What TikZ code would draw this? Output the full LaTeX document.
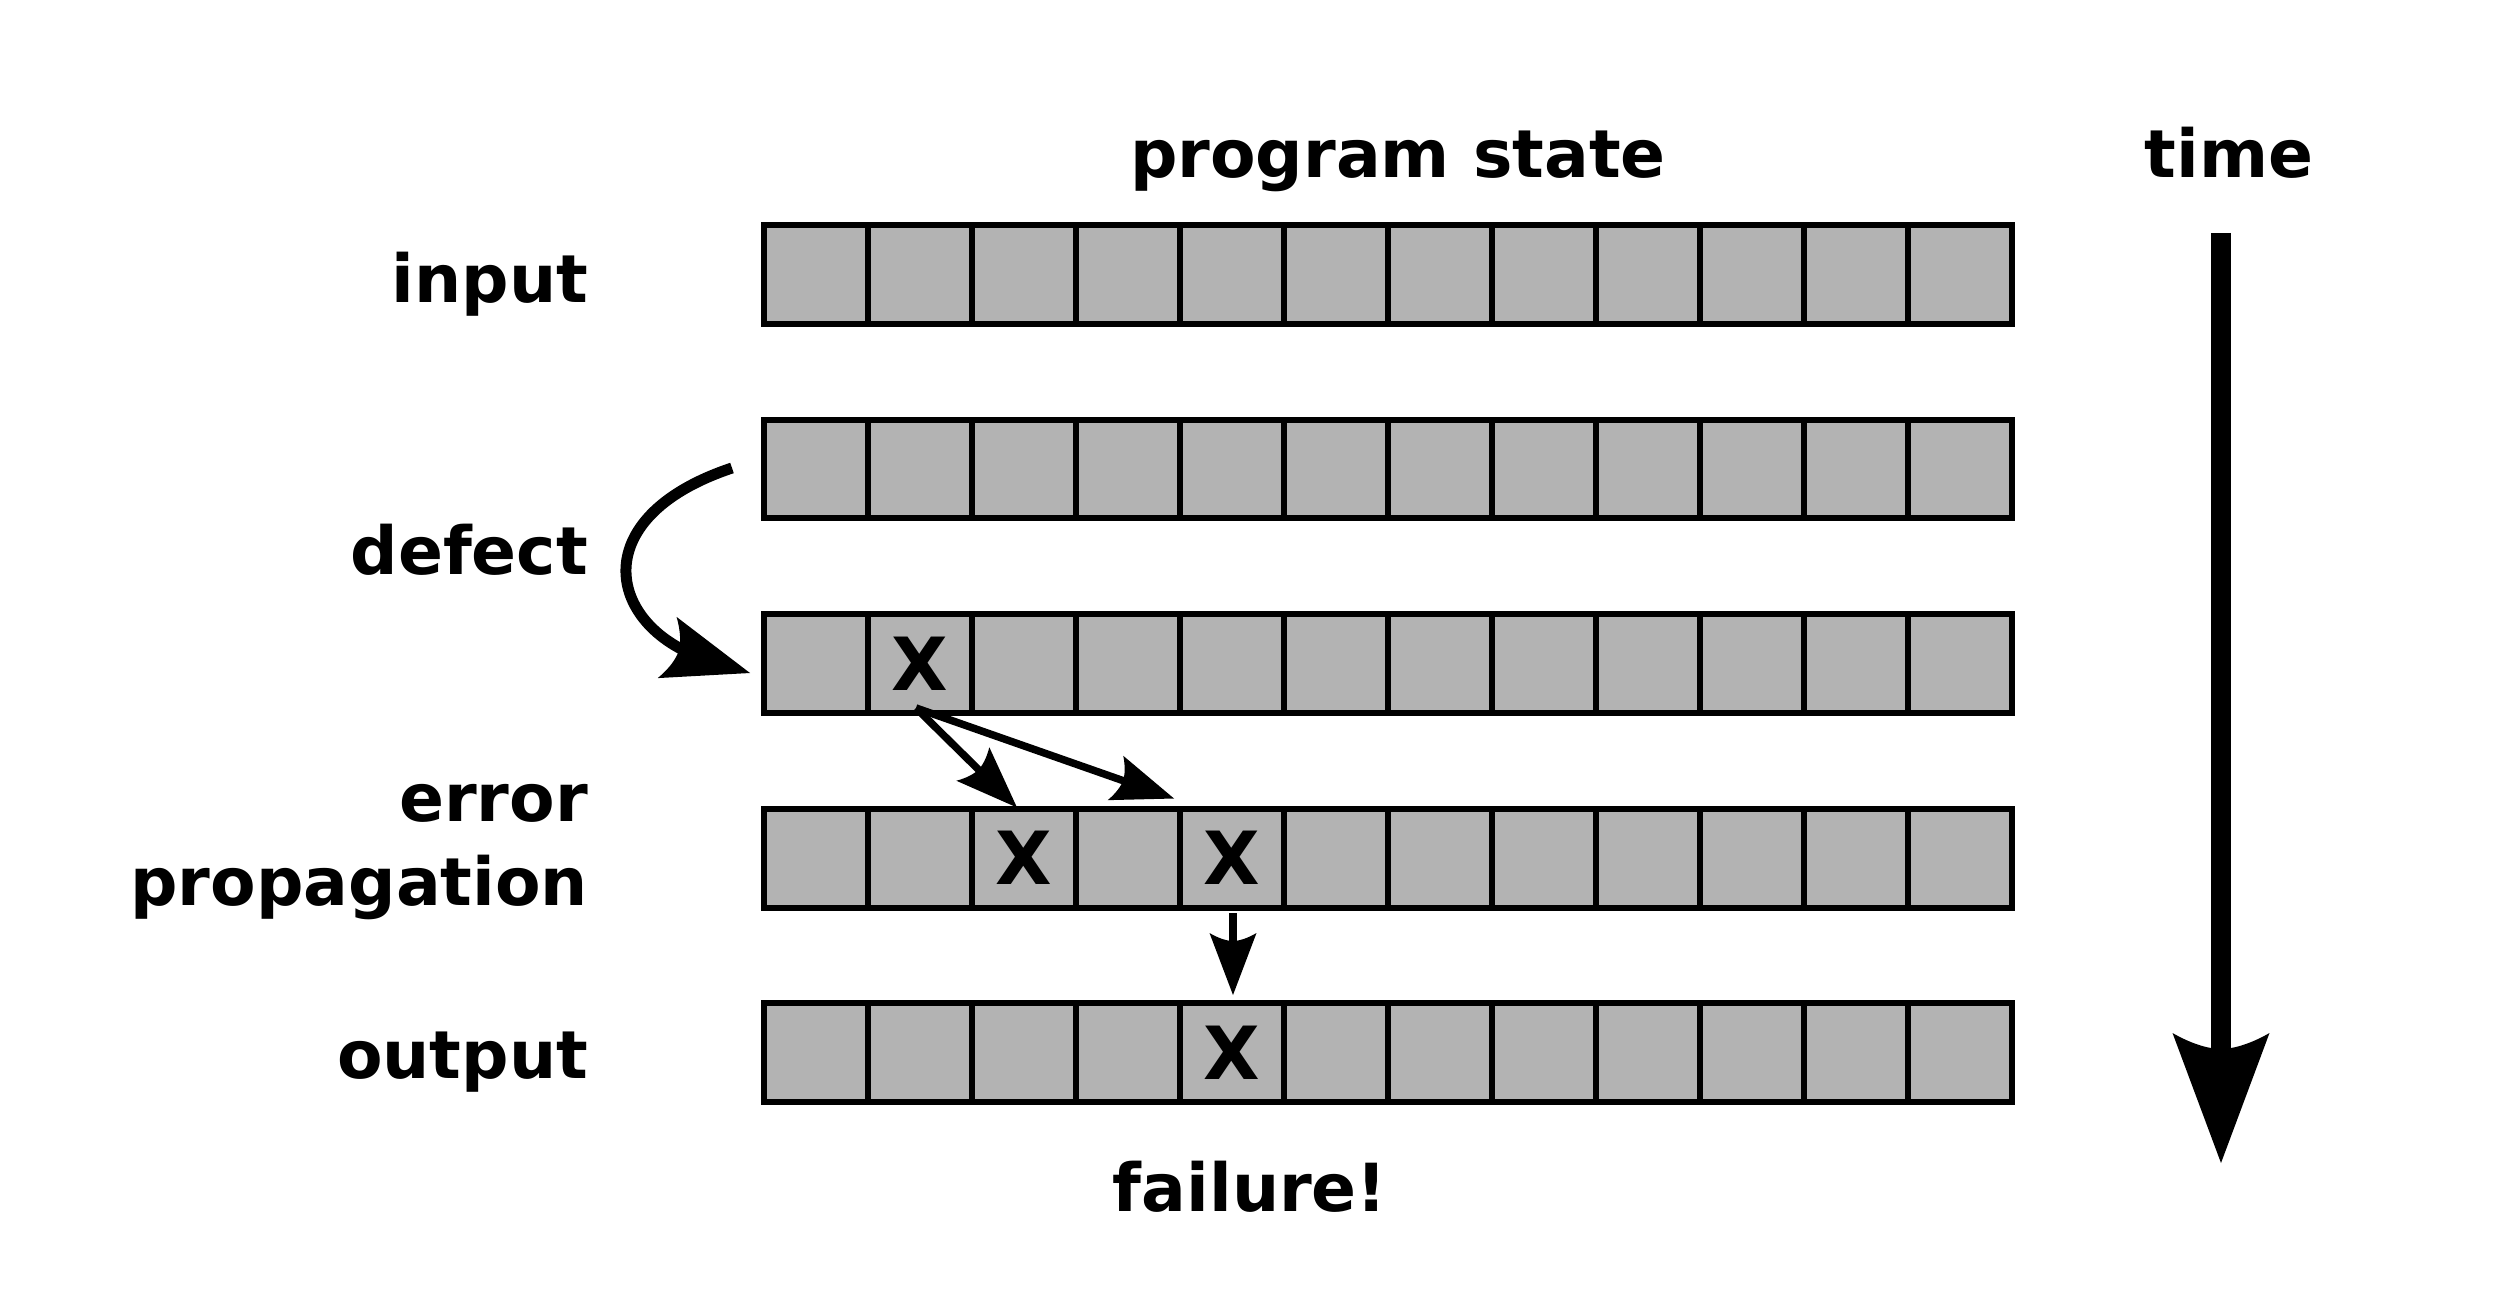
\documentclass[tikz,border=0pt]{standalone}
\usepackage{fontspec}
\setmainfont{DejaVu Sans}
\usetikzlibrary{arrows.meta,calc}
\definecolor{cellgray}{HTML}{B3B3B3}
\pgfdeclarearrow{
  name = InkHead,
  parameters = {\the\pgfarrowlength,\the\pgfarrowwidth,\the\pgfarrowinset},
  setup code = {
    \pgfarrowssettipend{\pgfarrowlength}
    \pgfarrowssetbackend{0pt}
    \pgfarrowssetlineend{.5\pgfarrowlength}
    \pgfarrowssavethe\pgfarrowlength
    \pgfarrowssavethe\pgfarrowwidth
    \pgfarrowssavethe\pgfarrowinset
  },
  drawing code = {
    \pgfpathmoveto{\pgfqpoint{\pgfarrowlength}{0pt}}
    \pgfpathlineto{\pgfqpoint{0pt}{.5\pgfarrowwidth}}
    \pgfpathcurveto{\pgfqpoint{.7\pgfarrowinset}{.3\pgfarrowwidth}}{\pgfqpoint{\pgfarrowinset}{.12\pgfarrowwidth}}{\pgfqpoint{\pgfarrowinset}{0pt}}
    \pgfpathcurveto{\pgfqpoint{\pgfarrowinset}{-.12\pgfarrowwidth}}{\pgfqpoint{.7\pgfarrowinset}{-.3\pgfarrowwidth}}{\pgfqpoint{0pt}{-.5\pgfarrowwidth}}
    \pgfpathclose
    \pgfusepathqfill
  },
  defaults = {length=10pt, width=8pt, inset=1.5pt}
}
\begin{document}
\begin{tikzpicture}[x=0.3pt, y=-0.3pt,
  cell/.style={draw=black, fill=cellgray, line width=1.8pt, minimum width=31.2pt, minimum height=29.7pt, inner sep=0pt, outer sep=0pt},
  lbl/.style={inner sep=0pt, outer sep=0pt, font=\fontsize{19.9}{24}\selectfont\bfseries},
  xmark/.style={inner sep=0pt, outer sep=0pt, font=\fontsize{22}{26}\selectfont\bfseries},
  defarrow/.style={line width=3.3pt, -{InkHead[length=26pt,width=19.2pt,inset=3.6pt]}},
  parrow/.style={line width=2.25pt, -{InkHead[length=18.6pt,width=14.1pt,inset=2.4pt]}},
  tarrow/.style={line width=6pt, -{InkHead[length=39pt,width=29.1pt,inset=4.8pt]}}
]
\useasboundingbox[fill=white] (0,0) rectangle (2500,1314);

\foreach \r/\yy in {1/274.5,2/469,3/663.5,4/858,5/1052.5}{
  \foreach \c in {1,...,12}{
    \node[cell] (r\r-\c) at ({764+(\c-0.5)*104},\yy) {};
  }
}

% titles and labels
\node[lbl, anchor=base] (ttl) at (1398,178) {program state};
\node[lbl, anchor=base] (ttime) at (2229,178) {time};
\node[lbl, anchor=base east] (linput) at (588,302.7) {input};
\node[lbl, anchor=base east] (ldefect) at (588,574) {defect};
\node[lbl, anchor=base east] (lerror) at (588,821.7) {error};
\node[lbl, anchor=base east] (lprop) at (588,905) {propagation};
\node[lbl, anchor=base east] (loutput) at (588,1078) {output};
\node[lbl, anchor=base] (lfail) at (1250,1211.7) {failure!};

% X marks
\node[xmark] (x3) at (r3-2.center) {X};
\node[xmark] (x4a) at (r4-3.center) {X};
\node[xmark] (x4b) at (r4-5.center) {X};
\node[xmark] (x5) at (r5-5.center) {X};

% defect arrow
\coordinate (dA) at ([shift={(-32,-1)}]r2-1.west);
\coordinate (dB) at ([shift={(-14,9.5)}]r3-1.west);
\draw[defarrow] (dA) .. controls +(-150,50) and +(-143,-44) .. (dB);

% propagation arrows
\coordinate (pA) at ([shift={(-4,-5)}]r3-2.south);
\coordinate (pB) at ([shift={(-7,-1)}]r4-3.north);
\coordinate (pC) at ([shift={(-6,-10)}]r4-4.north east);
\draw[parrow] (pA) -- (pB);
\draw[parrow] (pA) -- (pC);
\coordinate (pD) at ([shift={(1,5.5)}]r4-5.south);
\coordinate (pE) at ([shift={(1,-8)}]r5-5.north);
\draw[parrow] (pD) -- (pE);

% time arrow
\coordinate (tA) at (2221,233);
\coordinate (tB) at (2221,1163);
\draw[tarrow] (tA) -- (tB);
\end{tikzpicture}
\end{document}
